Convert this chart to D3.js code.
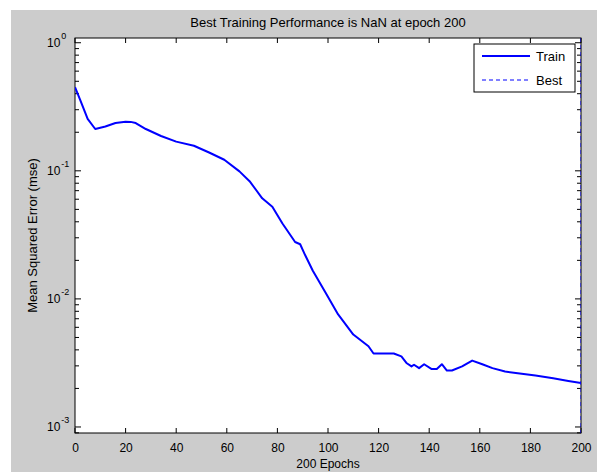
<!DOCTYPE html>
<html>
<head>
<meta charset="utf-8">
<script src="https://cdn.jsdelivr.net/npm/d3@7"></script>
<style>
  html, body { margin: 0; padding: 0; background: #ffffff; }
  svg { display: block; }
  text { font-family: "Liberation Sans", Arial, Helvetica, sans-serif; fill: #000; }
</style>
</head>
<body>
<svg id="chart" width="597" height="472"></svg>
<script>
// ---- data ----
const epochs = [0, 2, 5, 8, 12, 16, 20, 22, 24, 28, 34, 40, 47, 53, 59, 65, 69, 74, 78, 82, 87, 89, 91, 94, 99, 104, 110, 116, 118, 126, 129, 131, 133, 134, 136, 138, 141, 143, 145, 147, 149, 153, 157, 161, 165, 170, 175, 182, 189, 195, 200];
const trainMse = [0.45, 0.36, 0.254, 0.212, 0.222, 0.236, 0.242, 0.241, 0.236, 0.212, 0.187, 0.169, 0.157, 0.139, 0.122, 0.099, 0.083, 0.061, 0.0525, 0.0388, 0.0278, 0.0267, 0.0219, 0.0166, 0.0112, 0.00757, 0.00527, 0.00427, 0.00375, 0.00375, 0.00356, 0.00316, 0.00297, 0.00306, 0.00288, 0.00309, 0.00283, 0.00284, 0.00309, 0.00276, 0.00276, 0.00297, 0.0033, 0.00309, 0.00288, 0.00271, 0.00263, 0.00252, 0.0024, 0.00229, 0.0022];
const bestEpoch = 200;
const xTicks = [0, 20, 40, 60, 80, 100, 120, 140, 160, 180, 200];
const yTicks = [1e-3, 1e-2, 1e-1, 1];
const yTickExps = ["-3", "-2", "-1", "0"];
const xDomain = [0, 200];
const yDomain = [Math.pow(10, -3.047), Math.pow(10, 0.037)];
const titleText = "Best Training Performance is NaN at epoch 200";
const xLabelText = "200 Epochs";
const yLabelText = "Mean Squared Error  (mse)";
const legendLabels = ["Train", "Best"];

// ---- layout ----
const svg = d3.select("#chart");
const L = 75, R = 581, T = 38, B = 433;
const blue = "#0000ff";

svg.append("rect").attr("x", 11).attr("y", 10).attr("width", 597 - 11).attr("height", 472 - 10).attr("fill", "#cccccc");
svg.append("rect").attr("x", L).attr("y", T).attr("width", R - L).attr("height", B - T).attr("fill", "#ffffff");

const x = d3.scaleLinear().domain(xDomain).range([L, R]);
const y = d3.scaleLog().domain(yDomain).range([B, T]);

svg.append("clipPath").attr("id", "clip").append("rect")
  .attr("x", L).attr("y", T).attr("width", R - L).attr("height", B - T);

// x ticks (inside, top and bottom)
const g = svg.append("g");
xTicks.forEach(t => {
  g.append("line").attr("x1", x(t)).attr("x2", x(t)).attr("y1", B).attr("y2", B - 5).attr("stroke", "#000");
  g.append("line").attr("x1", x(t)).attr("x2", x(t)).attr("y1", T).attr("y2", T + 5).attr("stroke", "#000");
});
// x tick labels via d3 axis
const xAxis = svg.append("g").attr("transform", `translate(0,${B})`)
  .call(d3.axisBottom(x).tickValues(xTicks).tickSize(0).tickPadding(10).tickFormat(d3.format("d")));
xAxis.select(".domain").remove();
xAxis.selectAll("text").attr("font-size", 12).attr("font-family", "Liberation Sans, Arial, sans-serif").attr("fill", "#000");

// y ticks: major and minor
const minor = [];
for (let e = -4; e <= 0; e++) {
  for (let m = 2; m <= 9; m++) {
    const v = m * Math.pow(10, e);
    if (v >= yDomain[0] && v <= yDomain[1]) minor.push(v);
  }
}
minor.forEach(v => {
  g.append("line").attr("x1", L).attr("x2", L + 4).attr("y1", y(v)).attr("y2", y(v)).attr("stroke", "#000");
  g.append("line").attr("x1", R).attr("x2", R - 4).attr("y1", y(v)).attr("y2", y(v)).attr("stroke", "#000");
});
yTicks.forEach((v, i) => {
  g.append("line").attr("x1", L).attr("x2", L + 6).attr("y1", y(v)).attr("y2", y(v)).attr("stroke", "#000");
  g.append("line").attr("x1", R).attr("x2", R - 6).attr("y1", y(v)).attr("y2", y(v)).attr("stroke", "#000");
  const t = svg.append("text").attr("x", 47).attr("y", y(v) + 4).attr("font-size", 12);
  t.append("tspan").text("10");
  t.append("tspan").attr("dy", -8).attr("dx", 1).attr("font-size", 9).text(yTickExps[i]);
});

// frame
svg.append("rect").attr("x", L).attr("y", T).attr("width", R - L).attr("height", B - T)
  .attr("fill", "none").attr("stroke", "#000").attr("stroke-width", 1);

// best line (vertical dotted at best epoch)
svg.append("line").attr("x1", x(bestEpoch)).attr("x2", x(bestEpoch)).attr("y1", T).attr("y2", B)
  .attr("stroke", blue).attr("stroke-width", 1).attr("stroke-dasharray", "4,3").attr("clip-path", "url(#clip)");

// train line
const line = d3.line().x((d, i) => x(epochs[i])).y(d => y(d));
svg.append("path").datum(trainMse).attr("d", line).attr("fill", "none")
  .attr("stroke", blue).attr("stroke-width", 2).attr("stroke-linejoin", "round")
  .attr("clip-path", "url(#clip)");

// title and labels
svg.append("text").attr("x", (L + R) / 2).attr("y", 27).attr("text-anchor", "middle").attr("font-size", 13).text(titleText);
svg.append("text").attr("x", (L + R) / 2).attr("y", 468).attr("text-anchor", "middle").attr("font-size", 12).text(xLabelText);
svg.append("text").attr("transform", `translate(37,${(T + B) / 2}) rotate(-90)`).attr("text-anchor", "middle").attr("font-size", 13).text(yLabelText);

// legend
const lg = svg.append("g");
lg.append("rect").attr("x", 474).attr("y", 44).attr("width", 101).attr("height", 48)
  .attr("fill", "#ffffff").attr("stroke", "#000").attr("stroke-width", 1);
lg.append("line").attr("x1", 482).attr("x2", 530).attr("y1", 56).attr("y2", 56).attr("stroke", blue).attr("stroke-width", 2);
lg.append("line").attr("x1", 482).attr("x2", 530).attr("y1", 80).attr("y2", 80).attr("stroke", blue).attr("stroke-width", 1).attr("stroke-dasharray", "4,3");
lg.append("text").attr("x", 536).attr("y", 61).attr("font-size", 13).text(legendLabels[0]);
lg.append("text").attr("x", 536).attr("y", 85).attr("font-size", 13).text(legendLabels[1]);
</script>
</body>
</html>
